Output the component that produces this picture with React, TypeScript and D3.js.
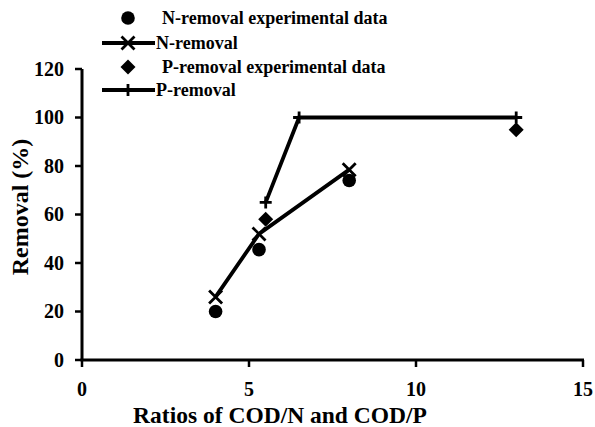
import React from "react";
import * as d3 from "d3";

const xTicks = [0, 5, 10, 15];
const yTicks = [0, 20, 40, 60, 80, 100, 120];

const nExpX = [4, 5.3, 8];
const nExpY = [20, 45.5, 74];
const nModX = [4, 5.3, 8];
const nModY = [26, 52, 78.5];
const pExpX = [5.5, 13];
const pExpY = [58, 95];
const pModX = [5.5, 6.5, 13];
const pModY = [65, 100, 100];

const legendLabels = [
  "N-removal experimental data",
  "N-removal",
  "P-removal experimental data",
  "P-removal",
];

const W = 595;
const H = 427;
const FONT = "'Liberation Serif', 'Times New Roman', serif";

export default function App() {
  const x = d3.scaleLinear().domain([0, 15]).range([82, 583]);
  const y = d3.scaleLinear().domain([0, 120]).range([360, 69]);
  const line = d3
    .line<[number, number]>()
    .x((d) => x(d[0]))
    .y((d) => y(d[1]));

  const nMod: [number, number][] = nModX.map((v, i) => [v, nModY[i]]);
  const pMod: [number, number][] = pModX.map((v, i) => [v, pModY[i]]);

  const circle = (cx: number, cy: number, k: string) => (
    <circle key={k} cx={cx} cy={cy} r={6.8} fill="#000" />
  );
  const diamond = (cx: number, cy: number, k: string) => (
    <path
      key={k}
      d={`M${cx},${cy - 7.5}L${cx + 7.5},${cy}L${cx},${cy + 7.5}L${cx - 7.5},${cy}Z`}
      fill="#000"
    />
  );
  const cross = (cx: number, cy: number, k: string) => (
    <path
      key={k}
      d={`M${cx - 6.5},${cy - 6.5}L${cx + 6.5},${cy + 6.5}M${cx - 6.5},${cy + 6.5}L${cx + 6.5},${cy - 6.5}`}
      stroke="#000"
      strokeWidth={2.8}
      fill="none"
    />
  );
  const plus = (cx: number, cy: number, k: string) => (
    <path
      key={k}
      d={`M${cx - 6},${cy}L${cx + 6},${cy}M${cx},${cy - 6}L${cx},${cy + 6}`}
      stroke="#000"
      strokeWidth={2.8}
      fill="none"
    />
  );

  const legendY = [18, 43, 67, 90];

  return (
    <div style={{ position: "fixed", left: 0, top: 0 }}>
      <svg width={W} height={H} style={{ display: "block", background: "#fff" }}>
        <rect width={W} height={H} fill="#fff" />
        {/* axes */}
        <line x1={x(0)} x2={x(0)} y1={y(120)} y2={y(0)} stroke="#000" strokeWidth={3} />
        <line x1={x(0) - 1.5} x2={x(15) + 1} y1={y(0)} y2={y(0)} stroke="#000" strokeWidth={3} />
        {yTicks.map((t) => (
          <g key={"yt" + t}>
            <line x1={x(0) - 7} x2={x(0)} y1={y(t)} y2={y(t)} stroke="#000" strokeWidth={2.5} />
            <text
              x={64}
              y={y(t)}
              dy="0.34em"
              textAnchor="end"
              fontFamily={FONT}
              fontWeight="bold"
              fontSize={20}
            >
              {t}
            </text>
          </g>
        ))}
        {xTicks.map((t) => (
          <g key={"xt" + t}>
            <line x1={x(t)} x2={x(t)} y1={y(0)} y2={y(0) + 7} stroke="#000" strokeWidth={2.5} />
            <text
              x={x(t)}
              y={396}
              textAnchor="middle"
              fontFamily={FONT}
              fontWeight="bold"
              fontSize={20}
            >
              {t}
            </text>
          </g>
        ))}
        <text
          x={280}
          y={423}
          textAnchor="middle"
          fontFamily={FONT}
          fontWeight="bold"
          fontSize={23.5}
        >
          Ratios of COD/N and COD/P
        </text>
        <text
          transform={`translate(28,207) rotate(-90)`}
          textAnchor="middle"
          fontFamily={FONT}
          fontWeight="bold"
          fontSize={24}
        >
          Removal (%)
        </text>

        {/* model lines */}
        <path d={line(nMod) || ""} stroke="#000" strokeWidth={3.8} fill="none" />
        <path d={line(pMod) || ""} stroke="#000" strokeWidth={3.8} fill="none" />
        {nMod.map((d, i) => cross(x(d[0]), y(d[1]), "nm" + i))}
        {pMod.map((d, i) => plus(x(d[0]), y(d[1]), "pm" + i))}
        {nExpX.map((v, i) => circle(x(v), y(nExpY[i]), "ne" + i))}
        {pExpX.map((v, i) => diamond(x(v), y(pExpY[i]), "pe" + i))}

        {/* legend */}
        {circle(128, legendY[0], "l0")}
        <line x1={102} x2={155} y1={legendY[1]} y2={legendY[1]} stroke="#000" strokeWidth={3.8} />
        {cross(128, legendY[1], "l1")}
        {diamond(128, legendY[2], "l2")}
        <line x1={102} x2={155} y1={legendY[3]} y2={legendY[3]} stroke="#000" strokeWidth={3.8} />
        {plus(128, legendY[3], "l3")}
        {legendLabels.map((s, i) => (
          <text
            key={"lt" + i}
            x={i % 2 === 0 ? 162 : 156}
            y={legendY[i]}
            dy="0.34em"
            fontFamily={FONT}
            fontWeight="bold"
            fontSize={18}
          >
            {s}
          </text>
        ))}
      </svg>
    </div>
  );
}
